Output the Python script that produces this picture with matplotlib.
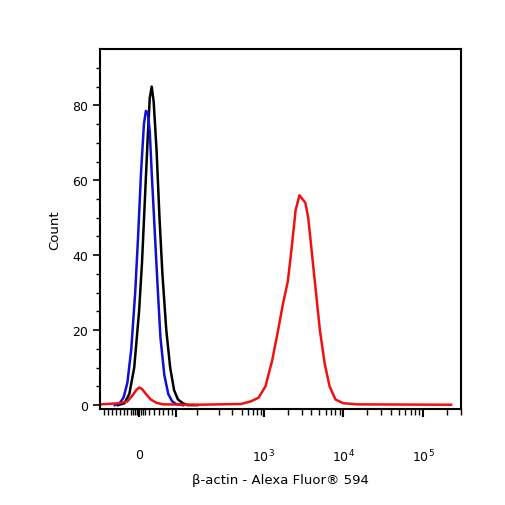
import numpy as np
import matplotlib
matplotlib.use("Agg")
import matplotlib.pyplot as plt

# x is in display channel units of the biexponential axis
black_x = [118, 125, 130, 135, 140, 143, 146, 149, 151, 153, 155, 158, 161, 164, 168, 172, 176, 180, 185, 190, 200]
black_y = [0, 0.5, 3, 10, 25, 38, 55, 72, 82, 85, 81, 68, 50, 35, 20, 10, 4, 1.5, 0.5, 0, 0]
blue_x = [115, 120, 124, 128, 132, 136, 139, 142, 145, 147, 149, 151, 153, 156, 159, 162, 166, 170, 174, 178, 185]
blue_y = [0, 0.5, 2, 6, 15, 30, 45, 62, 75, 78.5, 78, 73, 62, 47, 32, 18, 8, 3, 1, 0.3, 0]
red_x = [100, 120, 128, 133, 137, 140, 143, 147, 152, 158, 165, 200, 245, 255, 263, 270, 277, 283, 288,
         293, 297, 301, 305, 308, 311, 314, 318, 322, 326, 331, 336, 342, 350, 365, 461]
red_y = [0.2, 0.5, 1, 2.5, 4, 4.7, 4.3, 3, 1.5, 0.6, 0.2, 0.1, 0.3, 1, 2, 5, 12, 20, 27,
         33, 42, 52, 56, 55, 54, 50, 40, 30, 20, 11, 5, 1.5, 0.5, 0.2, 0.1]

major_pos = [140, 268, 350, 432]
major_lab = ["0", "$10^3$", "$10^4$", "$10^5$"]

fig = plt.figure(figsize=(5.06, 5.06), dpi=100)
ax = fig.add_axes([0.198, 0.19, 0.713, 0.711])
ax.plot(black_x, black_y, color="black", lw=1.8)
ax.plot(blue_x, blue_y, color="#1010d0", lw=1.8)
ax.plot(red_x, red_y, color="#ee1111", lw=1.8)

ax.set_xlim(100, 461)
ax.set_ylim(-1, 95)
ax.set_xticks(major_pos + [178])
ax.set_xticklabels(major_lab + [""], fontsize=9)
minors = [104, 108, 112, 116, 120, 124, 128, 132, 134, 136, 138, 142, 144, 146, 150, 155, 160, 165, 170, 174,
          200, 222, 236, 246, 252, 257, 261, 265]
for d0 in (268, 350):
    minors += [d0 + 82 * np.log10(k) for k in range(2, 10)]
minors += [432 + 82 * np.log10(k) for k in range(2, 4)]
ax.set_xticks(minors, minor=True)
ax.tick_params(axis="x", which="major", length=6, width=1.5, pad=22)
ax.tick_params(axis="x", which="minor", length=4, width=1)
ax.set_yticks([0, 20, 40, 60, 80])
ax.set_yticks(np.arange(0, 95, 5), minor=True)
ax.tick_params(axis="y", which="major", length=5, width=1.2, labelsize=9)
ax.tick_params(axis="y", which="minor", length=3, width=1)
for s in ax.spines.values():
    s.set_linewidth(1.5)
ax.set_xlabel("β-actin - Alexa Fluor® 594", fontsize=9.5, labelpad=6)
ax.set_ylabel("Count", fontsize=9.5, labelpad=8)
fig.savefig("out.png", dpi=100)
